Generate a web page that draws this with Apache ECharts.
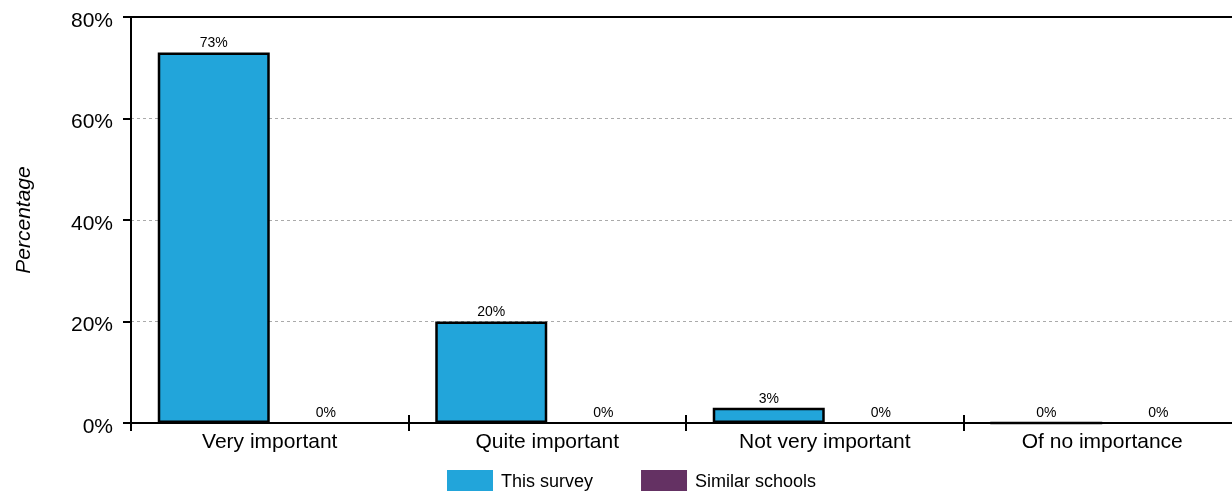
<!DOCTYPE html>
<html>
<head>
<meta charset="utf-8">
<script src="https://cdn.jsdelivr.net/npm/echarts@6/dist/echarts.min.js"></script>
<style>
  html, body { margin: 0; padding: 0; background: #fff; }
  #chart { width: 1232px; height: 491px; }
</style>
</head>
<body>
<div id="chart"></div>
<script>
// Importance ratings: this survey vs similar schools (percent of respondents)
const categories = ['Very important', 'Quite important', 'Not very important', 'Of no importance'];
const thisSurvey = [73, 20, 3, 0];
const similarSchools = [0, 0, 0, 0];
const seriesNames = ['This survey', 'Similar schools'];

const FONT = 'Liberation Sans, Arial, sans-serif';
const chart = echarts.init(document.getElementById('chart'), null, { renderer: 'canvas' });

const barLabel = {
  show: true,
  position: 'top',
  distance: 2,
  fontFamily: FONT,
  fontSize: 14,
  color: '#000',
  formatter: p => p.value + '%'
};

chart.setOption({
  animation: false,
  textStyle: { fontFamily: FONT },
  grid: {
    left: 131, top: 17, width: 1110, height: 406,
    containLabel: false,
    outerBoundsMode: 'none'
  },
  legend: {
    data: seriesNames,
    left: 447,
    top: 470,
    padding: 0,
    itemWidth: 46,
    itemHeight: 24,
    itemGap: 48,
    icon: 'rect',
    itemStyle: { borderWidth: 0 },
    textStyle: { fontFamily: FONT, fontSize: 18, color: '#000', padding: [0, 0, 0, 3] }
  },
  xAxis: [
    {
      type: 'category',
      data: categories,
      position: 'bottom',
      axisLine: { lineStyle: { color: '#000', width: 2 } },
      axisTick: { show: true, inside: false, length: 8, lineStyle: { color: '#000', width: 2 } },
      axisLabel: { fontFamily: FONT, fontSize: 21, color: '#000', margin: 9 },
      splitLine: { show: false }
    },
    {
      // inner half of the category boundary ticks
      type: 'category',
      data: categories,
      position: 'bottom',
      axisLine: { show: false },
      axisTick: { show: true, inside: true, length: 8, lineStyle: { color: '#000', width: 2 } },
      axisLabel: { show: false },
      splitLine: { show: false }
    },
    {
      // top frame line
      type: 'category',
      data: categories,
      position: 'top',
      axisLine: { show: true, lineStyle: { color: '#000', width: 2 } },
      axisTick: { show: false },
      axisLabel: { show: false },
      splitLine: { show: false }
    }
  ],
  yAxis: {
    type: 'value',
    min: 0,
    max: 80,
    interval: 20,
    name: 'Percentage',
    nameLocation: 'middle',
    nameRotate: 90,
    nameGap: 96,
    nameTextStyle: { fontFamily: FONT, fontSize: 21, fontStyle: 'italic', color: '#000' },
    axisLine: { show: true, lineStyle: { color: '#000', width: 2 } },
    axisTick: { show: true, length: 8, lineStyle: { color: '#000', width: 2 } },
    axisLabel: {
      formatter: '{t|{value}%}',
      margin: 18,
      rich: {
        t: { fontFamily: FONT, fontSize: 21, color: '#000', padding: [8, 0, 0, 0] }
      }
    },
    splitLine: { show: true, lineStyle: { color: '#aaa', type: [3, 3], width: 1 } }
  },
  series: [
    {
      name: seriesNames[0],
      type: 'bar',
      data: thisSurvey,
      barWidth: 112,
      barGap: '0%',
      itemStyle: { color: '#22A5DA', borderColor: '#000', borderWidth: 2.5 },
      label: barLabel
    },
    {
      name: seriesNames[1],
      type: 'bar',
      data: similarSchools,
      barWidth: 112,
      barGap: '0%',
      itemStyle: { color: '#643163', borderColor: '#000', borderWidth: 2 },
      label: barLabel
    }
  ]
});
</script>
</body>
</html>
